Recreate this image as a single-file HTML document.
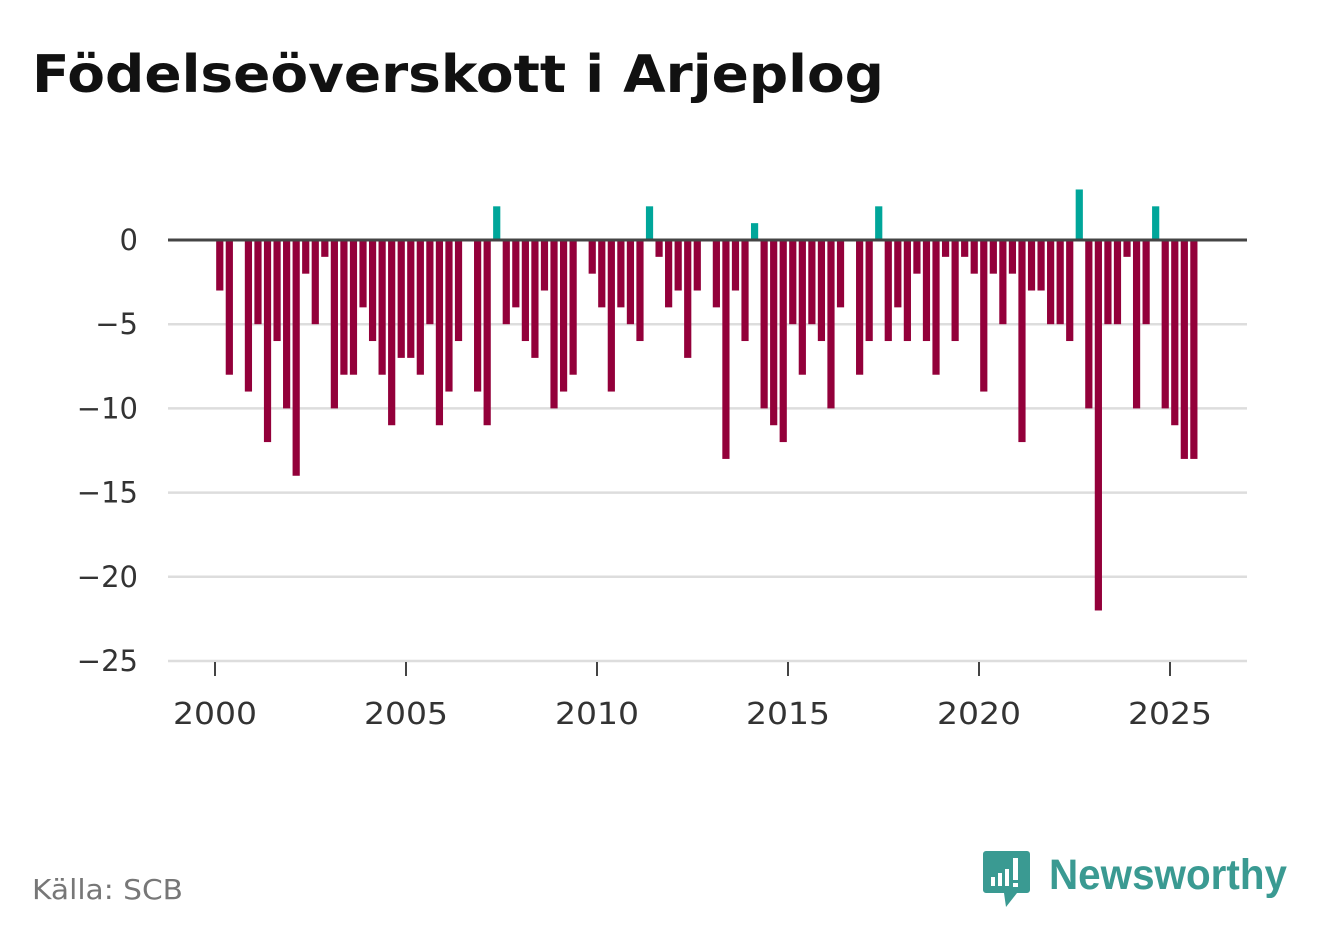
<!DOCTYPE html>
<html><head><meta charset="utf-8"><style>
body{margin:0;background:#fff;width:1322px;height:939px;overflow:hidden;font-family:"DejaVu Sans",sans-serif;}
</style></head><body>
<svg width="1322" height="939" viewBox="0 0 1322 939" xmlns="http://www.w3.org/2000/svg" font-family="DejaVu Sans, sans-serif">
<text x="32" y="92" font-weight="bold" font-size="52" fill="#111" textLength="852" lengthAdjust="spacingAndGlyphs">Födelseöverskott i Arjeplog</text>
<g id="grid"></g>
<g id="bars"></g>
<g id="yaxis"></g>
<g id="xaxis"></g>
<text x="32" y="899" font-size="28" fill="#777" textLength="151" lengthAdjust="spacingAndGlyphs">Källa: SCB</text>
<g>
<path d="M986 851 h41 a3 3 0 0 1 3 3 v36 a3 3 0 0 1 -3 3 h-10 l-11 14 l-2 -14 h-18 a3 3 0 0 1 -3 -3 v-36 a3 3 0 0 1 3 -3z" fill="#3a9a92"/>
<rect x="991" y="877" width="4" height="9" fill="#fff"/><rect x="998" y="873" width="4" height="13" fill="#fff"/><rect x="1005" y="869" width="4" height="17" fill="#fff"/><rect x="1013" y="858" width="5" height="22" fill="#fff"/><rect x="1013" y="883" width="5" height="4" fill="#fff"/>
<text x="1049" y="889" font-family="Liberation Sans, sans-serif" font-size="43" font-weight="bold" fill="#3a9a92" textLength="238" lengthAdjust="spacingAndGlyphs">Newsworthy</text>
</g>
</svg>
<script>
const values = [-3,-8,0,-9,-5,-12,-6,-10,-14,-2,-5,-1,-10,-8,-8,-4,-6,-8,-11,-7,-7,-8,-5,-11,-9,-6,0,-9,-11,2,-5,-4,-6,-7,-3,-10,-9,-8,0,-2,-4,-9,-4,-5,-6,2,-1,-4,-3,-7,-3,0,-4,-13,-3,-6,1,-10,-11,-12,-5,-8,-5,-6,-10,-4,0,-8,-6,2,-6,-4,-6,-2,-6,-8,-1,-6,-1,-2,-9,-2,-5,-2,-12,-3,-3,-5,-5,-6,3,-10,-22,-5,-5,-1,-10,-5,2,-10,-11,-13,-13];
const startYear = 2000;
const yTicks = [0,-5,-10,-15,-20,-25];
const yTickLabels = ["0","−5","−10","−15","−20","−25"];
const xTicks = [2000,2005,2010,2015,2020,2025];
const NS="http://www.w3.org/2000/svg";
const y = v => 240 - v*16.84;
const x = yr => 215 + (yr-2000)*38.2;
const L=168,R=1247;
const grid=document.getElementById('grid'),bars=document.getElementById('bars'),ya=document.getElementById('yaxis'),xa=document.getElementById('xaxis');
function mk(t,a,p){const e=document.createElementNS(NS,t);for(const k in a)e.setAttribute(k,a[k]);p.appendChild(e);return e;}
yTicks.forEach((t,i)=>{
  if(t!==0){const g=mk('line',{x1:L,x2:R,y1:y(t),y2:y(t),stroke:'#ddd','stroke-width':2.5},grid);
  
  }
  const tx=mk('text',{x:138,y:y(t)+10,'text-anchor':'end','font-size':29,fill:'#333'},ya);
  tx.textContent=yTickLabels[i];
  
  
});
values.forEach((v,i)=>{
  if(v===0)return;
  const cx=x(startYear+i/4+0.125);
  const top=Math.min(y(v),y(0)),h=Math.abs(y(v)-y(0));
  const b=mk('rect',{x:cx-3.6,y:top,width:7.2,height:h,fill:v>0?'#00a69a':'#93003a'},bars);
  
  
});
const z=mk('line',{x1:L,x2:R,y1:y(0),y2:y(0),stroke:'#444','stroke-width':3},bars);


xTicks.forEach(t=>{
  const tk=mk('line',{x1:x(t),x2:x(t),y1:662,y2:676,stroke:'#444','stroke-width':2},xa);
  
  
  const tx=mk('text',{x:x(t),y:724,'text-anchor':'middle','font-size':30,fill:'#333',textLength:84,lengthAdjust:'spacingAndGlyphs'},xa);
  tx.textContent=t;
  
  
});
</script>
</body></html>
